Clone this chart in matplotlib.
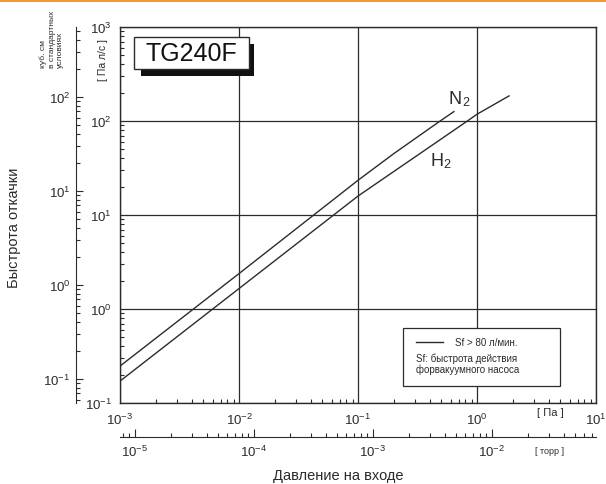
import matplotlib.pyplot as plt
import matplotlib.patches as mpatches
import matplotlib.lines as mlines
from matplotlib.ticker import LogLocator, FixedLocator, NullFormatter

# data: inlet pressure [Pa] vs pumping speed [Pa l/s]
p_n2 = [1e-3, 1e-2, 0.1, 0.2, 0.49, 0.64]
s_n2 = [0.247, 2.38, 23.4, 45, 100, 126]
p_h2 = [1e-3, 1e-2, 0.1, 0.4, 0.83, 1.0, 1.86]
s_h2 = [0.171, 1.65, 15.9, 53, 100, 118, 185]

# decades labelled on the secondary scales
sccm_ticks = [1e-1, 1e0, 1e1, 1e2]
torr_ticks = [1e-5, 1e-4, 1e-3, 1e-2]

PA_TO_TORR = 0.0075
PAL_TO_SCCM = 0.553

W, H = 606, 485
plt.rcParams['font.family'] = ['Liberation Sans', 'DejaVu Sans']
DARK = '#2b2b2b'


def fx(x):
    return x / W


def fy(y):
    return 1 - y / H


fig = plt.figure(figsize=(W / 100, H / 100), dpi=100)
ax = fig.add_axes([fx(120), fy(404), fx(596) - fx(120), fy(28) - fy(404)])

ax.plot(p_n2, s_n2, color=DARK, lw=1.0)
ax.plot(p_h2, s_h2, color=DARK, lw=1.0)

ax.set_xscale('log')
ax.set_yscale('log')
ax.set_xlim(1e-3, 1e1)
ax.set_ylim(1e-1, 1e3)

ax.xaxis.set_major_locator(LogLocator(base=10, numticks=10))
ax.yaxis.set_major_locator(LogLocator(base=10, numticks=10))
ax.xaxis.set_minor_locator(LogLocator(base=10, subs=range(2, 10), numticks=20))
ax.yaxis.set_minor_locator(LogLocator(base=10, subs=range(2, 10), numticks=20))
ax.xaxis.set_minor_formatter(NullFormatter())
ax.yaxis.set_minor_formatter(NullFormatter())
ax.tick_params(which='major', length=0, labelsize=9.5, colors=DARK, pad=6)
ax.tick_params(which='minor', direction='in', length=3, width=0.8, color=DARK)
ax.grid(True, which='major', color=DARK, lw=0.9)
for s in ax.spines.values():
    s.set_color(DARK)
    s.set_linewidth(1.0)

# second scale on the left: standard cc
sy = ax.secondary_yaxis((76 - 120) / 476,
                        functions=(lambda v: v * PAL_TO_SCCM, lambda v: v / PAL_TO_SCCM))
sy.yaxis.set_major_locator(FixedLocator(sccm_ticks))
sy.yaxis.set_minor_locator(LogLocator(base=10, subs=range(2, 10), numticks=20))
sy.yaxis.set_minor_formatter(NullFormatter())
sy.tick_params(which='major', direction='in', length=5, width=0.8, labelsize=9.5, colors=DARK, pad=4)
sy.tick_params(which='minor', direction='in', length=3, width=0.8, color=DARK)
sy.spines['left'].set_color(DARK)

# second scale at the bottom: torr
sx = ax.secondary_xaxis((404 - 438) / 376,
                        functions=(lambda v: v * PA_TO_TORR, lambda v: v / PA_TO_TORR))
sx.xaxis.set_major_locator(FixedLocator(torr_ticks))
sx.xaxis.set_minor_locator(LogLocator(base=10, subs=range(2, 10), numticks=20))
sx.xaxis.set_minor_formatter(NullFormatter())
sx.tick_params(which='major', direction='in', length=6, width=0.8, labelsize=9.5, colors=DARK, pad=5)
sx.tick_params(which='minor', direction='in', length=3, width=0.8, color=DARK)
sx.spines['bottom'].set_color(DARK)

# curve labels
fig.text(fx(448), fy(100), 'N', fontsize=13, color=DARK, va='center')
fig.text(fx(462), fy(103), '2', fontsize=9, color=DARK, va='center')
fig.text(fx(430), fy(162), 'H', fontsize=13, color=DARK, va='center')
fig.text(fx(443), fy(165), '2', fontsize=9, color=DARK, va='center')

# model box with shadow
fig.add_artist(mpatches.Rectangle((fx(141), fy(77)), fx(254) - fx(141), fy(45) - fy(77),
                                  transform=fig.transFigure, facecolor='#111111', edgecolor='none'))
fig.add_artist(mpatches.Rectangle((fx(134), fy(70)), fx(249) - fx(134), fy(38) - fy(70),
                                  transform=fig.transFigure, facecolor='white', edgecolor=DARK, lw=1.0))
fig.text(fx(191.5), fy(54), 'TG240F', fontsize=18, color='#111111', ha='center', va='center')

# legend box
fig.add_artist(mpatches.Rectangle((fx(403), fy(387)), fx(560) - fx(403), fy(329) - fy(387),
                                  transform=fig.transFigure, facecolor='white', edgecolor=DARK, lw=0.9))
fig.add_artist(mlines.Line2D([fx(416), fx(443)], [fy(343), fy(343)], color=DARK, lw=1.0))
fig.text(fx(455), fy(343), 'Sf > 80 л/мин.', fontsize=7, color=DARK, va='center')
fig.text(fx(416), fy(364), 'Sf: быстрота действия\nфорвакуумного насоса', fontsize=7,
         color=DARK, va='center', linespacing=1.05)

# axis captions
fig.text(fx(550), fy(413), '[ Па ]', fontsize=8, color=DARK, ha='center', va='center')
fig.text(fx(550), fy(452), '[ торр ]', fontsize=6.5, color=DARK, ha='center', va='center')
fig.text(fx(338), fy(476), 'Давление на входе', fontsize=10.5, color=DARK,
         ha='center', va='center')
fig.text(fx(14), fy(228), 'Быстрота откачки', fontsize=10.5, color=DARK,
         rotation=90, ha='center', va='center')
fig.text(fx(103), fy(60), '[ Па л/с ]', fontsize=7.5, color=DARK,
         rotation=90, ha='center', va='center')
fig.text(fx(52), fy(68), 'куб. см\nв стандартных\nусловиях', fontsize=6, color=DARK,
         rotation=90, ha='center', va='bottom', multialignment='left', linespacing=1.3)

# orange strip along the top edge
fig.add_artist(mpatches.Rectangle((0, fy(3)), 1, fy(0) - fy(3), transform=fig.transFigure,
                                  facecolor='#f0963c', edgecolor='none'))

fig.savefig('out.png', dpi=100)
